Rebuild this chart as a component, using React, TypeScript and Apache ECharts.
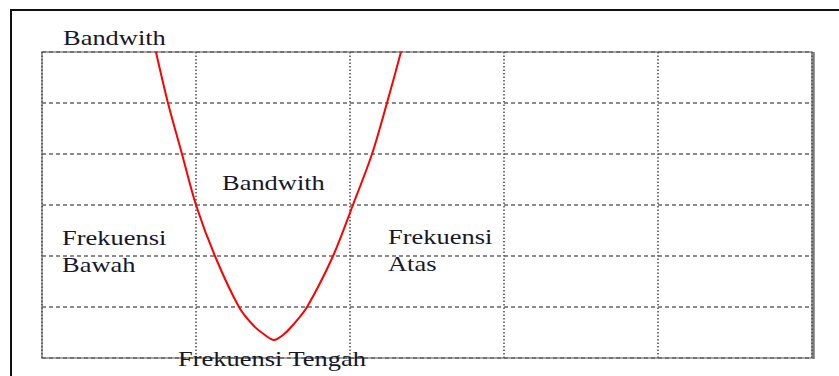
import React, { useEffect, useRef } from "react";
import * as echarts from "echarts";

const curveX = [0.74, 0.818, 0.909, 1.0, 1.123, 1.279, 1.37, 1.448, 1.506, 1.565, 1.63, 1.721, 1.89, 2.019, 2.143, 2.24, 2.331];
const curveY = [6.0, 5.0, 4.0, 3.0, 2.0, 1.0, 0.647, 0.451, 0.353, 0.451, 0.647, 1.0, 2.0, 3.0, 4.0, 5.0, 6.0];

const labelTopBandwidth = "Bandwith";
const labelMidBandwidth = "Bandwith";
const labelLow = "Frekuensi\nBawah";
const labelHigh = "Frekuensi\nAtas";
const labelCenter = "Frekuensi Tengah";

const TXT = "#16172a";

function txt(text: string, x: number, y: number) {
  return {
    type: "text",
    x,
    y,
    scaleX: 1.26,
    z: 10,
    style: {
      text,
      x: 0,
      y: 0,
      fontFamily: "Liberation Serif",
      fontSize: 21,
      fill: TXT,
      textVerticalAlign: "top",
      lineHeight: 27,
    },
  };
}

export default function App() {
  const ref = useRef<HTMLDivElement>(null);
  useEffect(() => {
    if (!ref.current) return;
    const chart = echarts.init(ref.current, null, { renderer: "svg" });
    chart.setOption({
      animation: false,
      backgroundColor: "#ffffff",
      grid: {
        left: 42,
        top: 52,
        width: 770,
        height: 306,
        show: true,
        borderColor: "#8a8a8a",
        borderWidth: 1.5,
        backgroundColor: "transparent",
      },
      xAxis: {
        type: "value",
        min: 0,
        max: 5,
        interval: 1,
        axisLine: { show: false },
        axisTick: { show: false },
        axisLabel: { show: false },
        splitLine: { show: true, lineStyle: { color: "#555", type: [1.5, 2], width: 1.6 } },
      },
      yAxis: {
        type: "value",
        min: 0,
        max: 6,
        interval: 1,
        axisLine: { show: false },
        axisTick: { show: false },
        axisLabel: { show: false },
        splitLine: { show: true, lineStyle: { color: "#666", type: [4, 3], width: 1.5 } },
      },
      series: [
        {
          type: "line",
          data: curveX.map((x, i) => [x, curveY[i]]),
          smooth: 0.3,
          showSymbol: false,
          lineStyle: { color: "#ff0000", width: 2 },
          z: 5,
        },
      ],
      graphic: [
        {
          type: "polyline",
          shape: { points: [[11, 376], [11, 10], [839, 10]] },
          style: { stroke: "#111", lineWidth: 2, fill: "none" },
        },
        {
          type: "line",
          shape: { x1: 813.5, y1: 52, x2: 813.5, y2: 359 },
          style: { stroke: "#7a7a7a", lineWidth: 2.5 },
        },
        txt(labelTopBandwidth, 63, 24),
        txt(labelMidBandwidth, 222, 169),
        txt(labelLow, 62, 224),
        txt(labelHigh, 388, 223),
        txt(labelCenter, 178, 345),
      ],
    });
    return () => chart.dispose();
  }, []);
  return (
    <div
      ref={ref}
      style={{ position: "fixed", left: 0, top: 0, width: 839, height: 376 }}
    />
  );
}
